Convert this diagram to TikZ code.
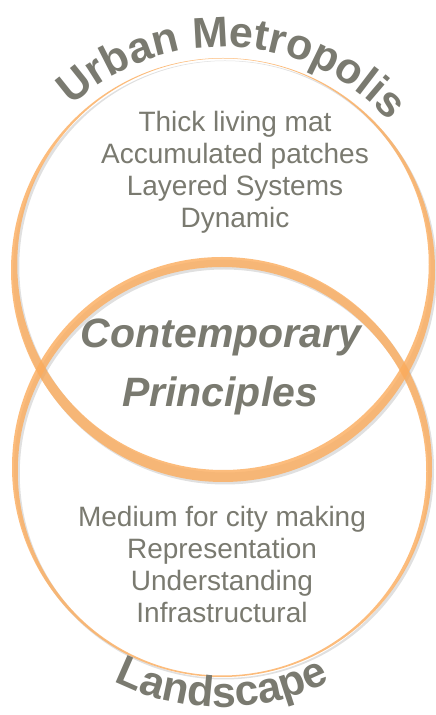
\documentclass[tikz,border=0pt]{standalone}
\usepackage{fontspec}
\setmainfont{Liberation Sans}
\usetikzlibrary{decorations.text}
\definecolor{ringcol}{RGB}{252,172,92}
\definecolor{txtgray}{RGB}{122,122,112}
\begin{document}
\begin{tikzpicture}[x=1pt,y=1pt,
  ring/.style={fill=ringcol, fill opacity=0.8, even odd rule},
  ringshadow/.style={fill=black, fill opacity=0.12, even odd rule},
  body/.style={font=\fontsize{28}{32}\selectfont, text=txtgray, anchor=base, inner sep=0pt},
  core/.style={font=\fontsize{41}{48}\selectfont\bfseries\itshape, text=txtgray, anchor=base, inner sep=0pt}]
\useasboundingbox (0,0) rectangle (436,715);
\fill[white] (0,0) rectangle (436,715);
\coordinate (topO) at (223,445);
\coordinate (topI) at (223,450.75);
\coordinate (botO) at (222,248);
\coordinate (botI) at (222,243.75);
% shadows
\fill[ringshadow] ([shift={(2,-2.5)}]topO) circle[radius=212] ([shift={(2,-2.5)}]topI) circle[radius=205.75];
\fill[ringshadow] ([shift={(2,-2.5)}]botO) circle[radius=210] ([shift={(2,-2.5)}]botI) circle[radius=204.25];
% rings
\fill[ring] (topO) circle[radius=212] (topI) circle[radius=205.75];
\fill[ring] (botO) circle[radius=210] (botI) circle[radius=204.25];
% curved headings
\path[decorate, decoration={text along path, text align=center, text color=txtgray,
  text={|\fontsize{43}{43}\selectfont\bfseries|Urban Metropolis}}]
  (topO) ++(147.25:223) arc[start angle=147.25, end angle=27.25, radius=223];
\path[decorate, decoration={text along path, text align=center, text color=txtgray,
  text={|\fontsize{43}{43}\selectfont\bfseries|Landscape}}]
  (botO) ++(-150:240) arc[start angle=-150, end angle=-30, radius=240];
% top circle text
\node[body] (t1) at (235,583) {Thick living mat};
\node[body] (t2) at (235,551) {Accumulated patches};
\node[body] (t3) at (235,519) {Layered Systems};
\node[body] (t4) at (235,487) {Dynamic};
% centre
\node[core] (c1) at (221,367) {Contemporary};
\node[core] (c2) at (220,308) {Principles};
% bottom circle text
\node[body] (b1) at (222,188) {Medium for city making};
\node[body] (b2) at (222,156) {Representation};
\node[body] (b3) at (222,124) {Understanding};
\node[body] (b4) at (222,92) {Infrastructural};
\end{tikzpicture}
\end{document}
